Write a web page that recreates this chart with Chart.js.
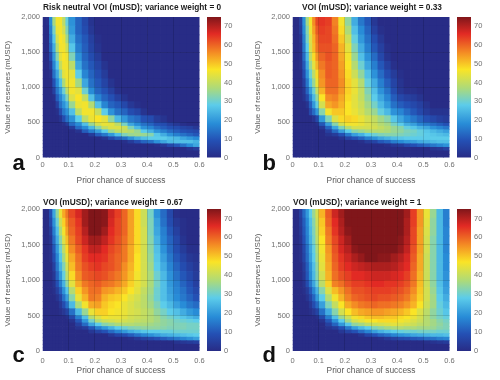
<!DOCTYPE html>
<html>
<head>
<meta charset="utf-8">
<title>VOI heat maps</title>
<script src="https://cdn.jsdelivr.net/npm/chart.js@4.4.1/dist/chart.umd.min.js"></script>
<style>
  html, body { margin: 0; padding: 0; background: #ffffff; }
  #fig { position: relative; width: 500px; height: 380px; overflow: hidden; }
  .panel { position: absolute; width: 250px; height: 190px; }
  .panel canvas { display: block; }
</style>
</head>
<body>
<div id="fig">
  <div class="panel" style="left:0;top:0"><canvas id="pa" width="250" height="190"></canvas></div>
  <div class="panel" style="left:250px;top:0"><canvas id="pb" width="250" height="190"></canvas></div>
  <div class="panel" style="left:0;top:190px"><canvas id="pc" width="250" height="190"></canvas></div>
  <div class="panel" style="left:250px;top:190px"><canvas id="pd" width="250" height="190"></canvas></div>
</div>
<script>
// ---- data ----
// cell edges along prior chance of success (x) and value of reserves (y, top to bottom)
const priorEdges = [0, 0.0125, 0.025, 0.0375, 0.05, 0.0625, 0.075, 0.0875, 0.1, 0.125, 0.15, 0.175, 0.2, 0.225, 0.25, 0.275, 0.3, 0.325, 0.35, 0.375, 0.4, 0.425, 0.45, 0.475, 0.5, 0.525, 0.55, 0.575, 0.6];
const reserveEdges = [2000, 1875, 1750, 1625, 1500, 1375, 1250, 1125, 1000, 900, 800, 700, 600, 500, 450, 400, 350, 300, 250, 200, 150, 100, 50, 0];

const priorTicks = [0, 0.1, 0.2, 0.3, 0.4, 0.5, 0.6];
const reserveTicks = [0, 500, 1000, 1500, 2000];
const voiTicks = [0, 10, 20, 30, 40, 50, 60, 70];
const voiMax = 75;

const panelTitles = [
  'Risk neutral VOI (mUSD); variance weight = 0',
  'VOI (mUSD); variance weight = 0.33',
  'VOI (mUSD); variance weight = 0.67',
  'VOI (mUSD); variance weight = 1'
];
const panelLetters = ['a', 'b', 'c', 'd'];
const xAxisTitle = 'Prior chance of success';
const yAxisTitle = 'Value of reserves (mUSD)';

// VOI (mUSD): rows = reserve bands (top first), columns = prior-chance bands
const voiA = [
  [0,1,18,36,46,46,39,29,19,12,7,2,0,0,0,0,0,0,0,0,0,0,0,0,0,0,0,0],
  [0,0,16,31,45,46,42,32,20,12,8,3,0,0,0,0,0,0,0,0,0,0,0,0,0,0,0,0],
  [0,0,14,27,42,47,45,36,23,14,10,5,1,0,0,0,0,0,0,0,0,0,0,0,0,0,0,0],
  [0,0,12,23,38,46,46,41,27,16,11,6,2,0,0,0,0,0,0,0,0,0,0,0,0,0,0,0],
  [0,0,8,20,33,44,47,45,32,19,12,8,4,0,0,0,0,0,0,0,0,0,0,0,0,0,0,0],
  [0,0,4,17,27,40,46,46,39,22,14,10,6,2,0,0,0,0,0,0,0,0,0,0,0,0,0,0],
  [0,0,1,14,22,33,44,46,44,28,17,12,8,4,0,0,0,0,0,0,0,0,0,0,0,0,0,0],
  [0,0,0,9,18,26,37,45,46,36,22,14,10,6,2,0,0,0,0,0,0,0,0,0,0,0,0,0],
  [0,0,0,5,15,21,30,39,46,44,30,18,12,9,5,1,0,0,0,0,0,0,0,0,0,0,0,0],
  [0,0,0,1,11,17,23,32,43,47,40,26,17,12,9,5,2,0,0,0,0,0,0,0,0,0,0,0],
  [0,0,0,0,5,14,19,24,35,45,46,38,26,17,12,10,7,3,1,0,0,0,0,0,0,0,0,0],
  [0,0,0,0,1,8,15,19,26,39,46,46,40,28,19,14,12,8,6,2,0,0,0,0,0,0,0,0],
  [0,0,0,0,0,2,8,14,19,28,39,45,47,44,34,25,20,15,13,9,8,4,2,0,0,0,0,0],
  [0,0,0,0,0,0,1,4,13,18,26,35,42,45,44,39,31,22,18,14,12,9,8,5,3,1,0,0],
  [0,0,0,0,0,0,0,0,4,13,18,25,33,40,43,43,41,32,25,19,17,13,11,9,8,6,5,3],
  [0,0,0,0,0,0,0,0,0,2,11,16,21,28,35,39,40,38,35,28,24,19,16,13,11,9,8,7],
  [0,0,0,0,0,0,0,0,0,0,0,4,11,15,20,26,32,35,36,35,33,27,23,19,16,14,12,10],
  [0,0,0,0,0,0,0,0,0,0,0,0,0,2,7,11,14,19,23,26,28,28,28,26,25,22,20,18],
  [0,0,0,0,0,0,0,0,0,0,0,0,0,0,0,0,1,4,8,12,14,19,22,25,26,26,26,24],
  [0,0,0,0,0,0,0,0,0,0,0,0,0,0,0,0,0,0,0,0,0,1,3,7,10,14,18,22],
  [0,0,0,0,0,0,0,0,0,0,0,0,0,0,0,0,0,0,0,0,0,0,0,0,0,0,2,4],
  [0,0,0,0,0,0,0,0,0,0,0,0,0,0,0,0,0,0,0,0,0,0,0,0,0,0,0,0],
  [0,0,0,0,0,0,0,0,0,0,0,0,0,0,0,0,0,0,0,0,0,0,0,0,0,0,0,0]
];
const voiB = [
  [0,0,5,19,36,46,56,63,65,64,57,46,34,23,15,10,3,0,0,0,0,0,0,0,0,0,0,0],
  [0,0,4,18,33,45,54,61,64,63,58,48,37,26,18,12,5,1,0,0,0,0,0,0,0,0,0,0],
  [0,0,2,16,31,43,52,59,63,63,59,50,41,29,20,14,8,3,0,0,0,0,0,0,0,0,0,0],
  [0,0,1,15,28,42,51,58,62,62,60,52,44,32,23,16,10,5,1,0,0,0,0,0,0,0,0,0],
  [0,0,1,13,25,39,48,55,60,62,60,53,46,35,26,19,13,7,2,0,0,0,0,0,0,0,0,0],
  [0,0,1,10,22,35,44,52,58,61,60,54,47,38,30,22,16,10,5,1,0,0,0,0,0,0,0,0],
  [0,0,0,8,19,30,39,48,56,61,60,55,48,41,34,26,19,13,8,4,1,0,0,0,0,0,0,0],
  [0,0,0,5,15,26,35,45,55,60,60,56,49,44,38,29,23,16,11,6,2,0,0,0,0,0,0,0],
  [0,0,0,3,12,21,30,40,52,59,59,55,49,45,40,32,26,19,14,8,3,1,1,0,0,0,0,0],
  [0,0,0,2,7,16,25,34,47,56,57,53,48,44,40,34,28,22,17,11,7,5,4,2,0,0,0,0],
  [0,0,0,0,2,11,20,29,42,53,55,52,47,44,41,36,31,25,20,14,11,9,7,5,2,0,0,0],
  [0,0,0,0,0,7,13,20,33,46,50,50,47,45,42,38,35,29,25,19,17,13,10,7,4,2,2,2],
  [0,0,0,0,0,0,2,7,20,32,43,48,49,48,45,42,40,36,33,27,22,18,15,12,9,7,5,4],
  [0,0,0,0,0,0,0,1,10,21,33,42,46,46,45,43,41,38,36,31,28,23,21,17,15,13,11,9],
  [0,0,0,0,0,0,0,0,3,12,22,32,38,42,42,42,42,40,38,35,33,29,27,24,22,19,17,15],
  [0,0,0,0,0,0,0,0,0,5,13,21,28,33,35,37,38,38,37,35,34,32,31,29,27,25,23,21],
  [0,0,0,0,0,0,0,0,0,2,4,9,15,21,24,28,30,32,33,33,32,31,30,29,28,27,26,25],
  [0,0,0,0,0,0,0,0,0,0,0,2,6,9,12,16,19,22,24,26,27,28,28,28,28,28,28,28],
  [0,0,0,0,0,0,0,0,0,0,0,0,0,0,1,4,6,10,12,16,18,20,21,23,24,25,26,26],
  [0,0,0,0,0,0,0,0,0,0,0,0,0,0,0,0,0,0,1,3,4,7,9,11,13,15,17,19],
  [0,0,0,0,0,0,0,0,0,0,0,0,0,0,0,0,0,0,0,0,0,0,0,0,0,2,3,5],
  [0,0,0,0,0,0,0,0,0,0,0,0,0,0,0,0,0,0,0,0,0,0,0,0,0,0,0,0],
  [0,0,0,0,0,0,0,0,0,0,0,0,0,0,0,0,0,0,0,0,0,0,0,0,0,0,0,0]
];
const voiC = [
  [0,0,9,22,34,45,53,58,63,67,72,76,77,74,68,64,60,54,48,41,31,19,13,7,1,0,0,0],
  [0,0,7,19,30,41,49,56,61,65,72,77,77,74,67,63,60,54,48,41,32,21,14,8,3,1,0,0],
  [0,0,4,16,26,37,46,54,60,64,70,75,75,72,66,63,60,54,48,42,32,22,16,10,5,1,0,0],
  [0,0,2,13,23,33,43,51,58,63,68,72,72,69,65,62,59,54,48,42,33,24,17,12,7,2,0,0],
  [0,0,1,10,20,30,39,48,56,61,65,69,69,66,63,61,58,53,48,42,34,26,19,13,8,4,1,1],
  [0,0,1,8,17,27,36,45,53,59,64,66,66,65,62,60,58,53,47,42,35,27,21,15,10,6,3,2],
  [0,0,0,5,15,24,32,42,51,58,62,64,65,63,62,60,56,52,47,42,36,28,23,17,12,8,5,3],
  [0,0,0,3,12,20,29,39,48,56,61,62,63,62,60,58,55,51,46,42,37,30,25,19,14,10,7,4],
  [0,0,0,2,9,16,24,34,44,53,58,60,61,59,58,56,53,49,45,42,37,31,26,20,16,12,9,5],
  [0,0,0,1,5,11,19,27,38,49,55,59,59,55,54,52,50,47,44,40,36,30,26,21,17,14,10,7],
  [0,0,0,0,2,6,14,21,33,45,52,58,57,52,50,49,47,44,42,39,35,30,26,22,18,15,12,9],
  [0,0,0,0,0,3,8,14,25,37,46,53,54,50,48,47,45,43,41,39,36,32,28,25,21,18,15,13],
  [0,0,0,0,0,1,3,6,14,25,35,45,49,49,47,46,45,43,42,40,38,34,31,28,26,23,20,18],
  [0,0,0,0,0,0,0,1,7,16,26,38,43,46,45,45,44,42,41,40,38,36,33,31,29,27,25,23],
  [0,0,0,0,0,0,0,0,2,10,20,31,38,41,42,43,42,41,40,39,38,36,34,33,31,30,29,28],
  [0,0,0,0,0,0,0,0,0,5,13,22,28,33,35,37,38,38,37,37,36,35,34,33,32,32,31,31],
  [0,0,0,0,0,0,0,0,0,2,4,10,16,20,24,28,30,32,33,34,34,34,33,32,32,32,31,31],
  [0,0,0,0,0,0,0,0,0,0,0,3,6,9,13,17,20,23,25,27,28,28,29,29,30,30,30,30],
  [0,0,0,0,0,0,0,0,0,0,0,0,0,0,3,6,8,11,14,17,19,21,23,24,25,26,27,28],
  [0,0,0,0,0,0,0,0,0,0,0,0,0,0,0,0,0,1,3,5,7,9,11,13,15,17,19,21],
  [0,0,0,0,0,0,0,0,0,0,0,0,0,0,0,0,0,0,0,0,0,0,0,0,2,3,4,5],
  [0,0,0,0,0,0,0,0,0,0,0,0,0,0,0,0,0,0,0,0,0,0,0,0,0,0,0,0],
  [0,0,0,0,0,0,0,0,0,0,0,0,0,0,0,0,0,0,0,0,0,0,0,0,0,0,0,0]
];
const voiD = [
  [0,0,5,13,20,28,35,42,52,61,68,72,76,79,80,80,80,80,80,78,76,72,64,55,45,35,25,16],
  [0,0,4,11,18,26,33,41,50,60,66,71,75,78,80,80,80,80,80,78,76,71,64,55,44,34,25,16],
  [0,0,3,10,17,25,32,40,49,58,65,70,74,77,79,80,79,79,79,77,75,71,63,54,43,34,25,17],
  [0,0,2,9,16,24,31,39,47,57,63,68,72,76,78,79,79,79,78,76,74,70,63,54,42,33,25,17],
  [0,0,1,7,14,22,29,37,46,55,62,67,70,74,76,77,77,77,76,75,73,69,62,54,42,33,25,17],
  [0,0,1,6,13,21,28,36,45,54,61,65,68,71,73,75,75,74,74,72,70,67,61,53,41,33,25,18],
  [0,0,0,4,11,19,26,34,44,53,60,64,66,68,69,70,71,71,71,70,68,66,60,53,41,33,25,18],
  [0,0,0,3,10,18,25,33,42,52,59,62,64,66,66,67,68,68,68,67,66,64,59,52,41,33,25,19],
  [0,0,0,2,8,15,22,30,39,49,57,59,62,64,64,65,66,66,65,65,64,62,58,51,41,34,26,20],
  [0,0,0,1,4,10,17,24,33,43,51,55,59,62,62,63,64,64,64,63,62,60,56,50,42,35,27,21],
  [0,0,0,0,2,6,12,20,28,38,46,52,57,60,61,62,63,62,62,61,60,58,54,49,42,36,28,23],
  [0,0,0,0,0,3,8,13,21,32,40,47,53,56,58,59,60,59,59,58,57,55,52,47,41,36,29,25],
  [0,0,0,0,0,1,3,6,14,23,33,42,47,51,53,54,55,55,54,53,52,50,47,43,39,34,30,27],
  [0,0,0,0,0,0,0,1,7,16,26,35,41,46,48,50,51,51,50,50,48,47,45,42,38,34,31,29],
  [0,0,0,0,0,0,0,0,2,10,19,28,36,42,44,46,47,48,48,48,46,45,43,41,38,36,33,31],
  [0,0,0,0,0,0,0,0,0,5,12,20,27,34,36,39,41,42,43,44,43,42,41,39,38,36,34,32],
  [0,0,0,0,0,0,0,0,0,2,4,9,15,21,25,28,32,34,36,37,38,37,37,36,36,35,33,32],
  [0,0,0,0,0,0,0,0,0,0,0,3,6,9,13,17,21,24,26,28,29,30,30,31,31,31,30,30],
  [0,0,0,0,0,0,0,0,0,0,0,0,0,0,2,6,9,12,14,17,19,20,22,23,24,25,25,26],
  [0,0,0,0,0,0,0,0,0,0,0,0,0,0,0,0,0,1,3,5,7,8,10,11,13,14,16,17],
  [0,0,0,0,0,0,0,0,0,0,0,0,0,0,0,0,0,0,0,0,0,0,0,0,1,2,3,4],
  [0,0,0,0,0,0,0,0,0,0,0,0,0,0,0,0,0,0,0,0,0,0,0,0,0,0,0,0],
  [0,0,0,0,0,0,0,0,0,0,0,0,0,0,0,0,0,0,0,0,0,0,0,0,0,0,0,0]
];

// ---- colour map (jet-like, as printed) ----
const cmapStops = [0, 9, 18, 28, 37, 47, 56, 66, 75];
const cmapColors = [[40,44,134],[36,80,180],[40,140,215],[92,204,234],[172,218,122],[250,228,38],[244,140,36],[226,42,36],[128,22,26]];

function valueColor(v) {
  const t = Math.max(0, Math.min(voiMax, v));
  for (let i = 0; i < cmapStops.length - 1; i++) {
    const a = cmapStops[i], b = cmapStops[i + 1];
    if (t <= b) {
      const f = (t - a) / (b - a);
      const c0 = cmapColors[i], c1 = cmapColors[i + 1];
      return 'rgb(' + [0, 1, 2].map(k => Math.round(c0[k] + (c1[k] - c0[k]) * f)).join(',') + ')';
    }
  }
  return 'rgb(' + cmapColors[cmapColors.length - 1].join(',') + ')';
}

// ---- layout ----
const plotTop = [17, 17, 19, 19];
const plotBottom = [157.5, 157.5, 161, 161];
const plotLeft = 42.5, plotRight = 199.5;
const titleX = [43, 52, 43, 43];
const titleBase = [10, 10, 14.5, 14.5];
const letterBase = [170, 170, 172, 172];
const xTickPad = [3, 3, 5, 5];

Chart.defaults.font.family = "'Liberation Sans', Arial, Helvetica, sans-serif";
Chart.defaults.color = '#666';

function panelPlugin(grid, idx) {
  return {
    id: 'voiPanel' + idx,
    beforeDatasetsDraw(chart) {
      const { ctx, chartArea: ca, scales } = chart;
      const xs = scales.x, ys = scales.y;
      ctx.save();
      ctx.beginPath();
      ctx.rect(ca.left, ca.top, ca.right - ca.left, ca.bottom - ca.top);
      ctx.clip();
      for (let r = 0; r < grid.length; r++) {
        const y0 = ys.getPixelForValue(reserveEdges[r]);
        const y1 = ys.getPixelForValue(reserveEdges[r + 1]);
        for (let c = 0; c < grid[r].length; c++) {
          const x0 = xs.getPixelForValue(priorEdges[c]);
          const x1 = xs.getPixelForValue(priorEdges[c + 1]);
          ctx.fillStyle = valueColor(grid[r][c]);
          ctx.fillRect(x0, y0, x1 - x0 + 0.7, y1 - y0 + 0.7);
        }
      }
      ctx.restore();
    },
    afterDraw(chart) {
      const { ctx, chartArea: ca, scales } = chart;
      const cb = scales.cb;
      const yTop = cb.getPixelForValue(voiMax), yBot = cb.getPixelForValue(0);
      const g = ctx.createLinearGradient(0, yBot, 0, yTop);
      cmapStops.forEach((s, i) => g.addColorStop(s / voiMax, 'rgb(' + cmapColors[i].join(',') + ')'));
      ctx.save();
      ctx.fillStyle = g;
      ctx.fillRect(ca.right + 7.5, yTop, 14, yBot - yTop);
      ctx.font = "bold 8.3px 'Liberation Sans', Arial, sans-serif";
      ctx.fillStyle = '#1e1e1e';
      ctx.textAlign = 'left';
      ctx.textBaseline = 'alphabetic';
      ctx.fillText(panelTitles[idx], titleX[idx], titleBase[idx]);
      ctx.font = "bold 22px 'Liberation Sans', Arial, sans-serif";
      ctx.fillStyle = '#111';
      ctx.fillText(panelLetters[idx], 12.5, letterBase[idx]);
      ctx.restore();
    }
  };
}

function innerGrid(lo, hi) {
  return (c) => (c.tick && (c.tick.value <= lo || c.tick.value >= hi)) ? 'rgba(0,0,0,0)' : 'rgba(0,0,0,0.13)';
}

function buildPanel(idx, canvasId, grid) {
  const chart = new Chart(document.getElementById(canvasId), {
    type: 'scatter',
    data: { datasets: [] },
    options: {
      responsive: false,
      animation: false,
      events: [],
      layout: { padding: { top: plotTop[idx], left: 0, right: 0, bottom: 0 } },
      plugins: { legend: { display: false }, tooltip: { enabled: false }, title: { display: false } },
      scales: {
        x: {
          type: 'linear', position: 'bottom', min: 0, max: 0.6,
          afterBuildTicks: s => { s.ticks = priorTicks.map(v => ({ value: v })); },
          afterFit: s => { s.height = 190 - plotBottom[idx]; },
          grid: { drawTicks: false, color: innerGrid(0, 0.6), lineWidth: 1, z: 1 },
          border: { display: false },
          ticks: { padding: xTickPad[idx], font: { size: 7.5 }, color: '#707070', maxRotation: 0, autoSkip: false,
                   callback: v => String(v) },
          title: { display: true, text: xAxisTitle, font: { size: 8.4 }, color: '#5a5a5a', padding: { top: 1, bottom: 4 } }
        },
        y: {
          type: 'linear', position: 'left', min: 0, max: 2000,
          afterBuildTicks: s => { s.ticks = reserveTicks.map(v => ({ value: v })); },
          afterFit: s => { s.width = plotLeft; },
          grid: { drawTicks: false, color: innerGrid(0, 2000), lineWidth: 1, z: 1 },
          border: { display: false },
          ticks: { padding: 2.5, font: { size: 7.5 }, color: '#707070', autoSkip: false,
                   callback: v => Number(v).toLocaleString('en-US') },
          title: { display: true, text: yAxisTitle, font: { size: 8 }, color: '#5a5a5a', padding: { top: 3, bottom: 0 } }
        },
        cb: {
          type: 'linear', position: 'right', min: 0, max: voiMax,
          afterBuildTicks: s => { s.ticks = voiTicks.map(v => ({ value: v })); },
          afterFit: s => { s.width = 250 - plotRight; },
          grid: { display: false, drawTicks: true, tickLength: 22 },
          border: { display: false },
          ticks: { padding: 2.5, font: { size: 7.5 }, color: '#707070', autoSkip: false }
        }
      }
    },
    plugins: [panelPlugin(grid, idx)]
  });
  // keep the plot area where the figure has it
  for (let k = 0; k < 3; k++) {
    const d = chart.chartArea.top - plotTop[idx];
    if (Math.abs(d) < 0.3) break;
    chart.options.layout.padding.top = Math.max(0, chart.options.layout.padding.top - d);
    chart.update('none');
  }
  return chart;
}

buildPanel(0, 'pa', voiA);
buildPanel(1, 'pb', voiB);
buildPanel(2, 'pc', voiC);
buildPanel(3, 'pd', voiD);
</script>
</body>
</html>
